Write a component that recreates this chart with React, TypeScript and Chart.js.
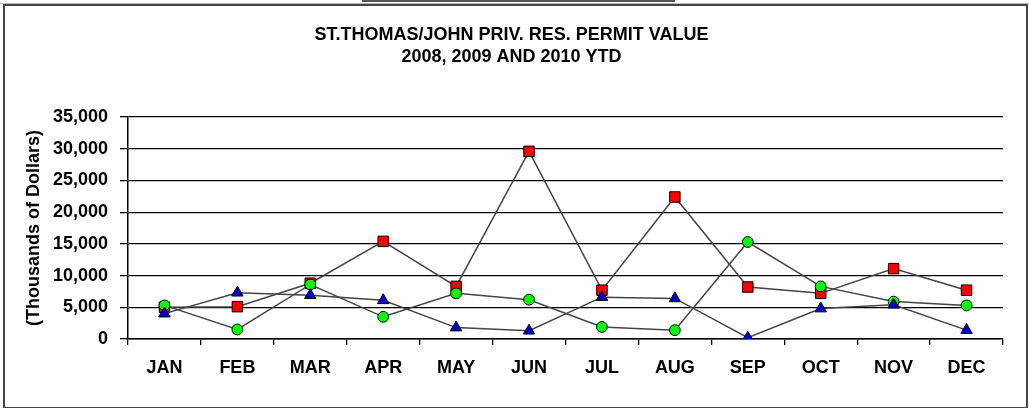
import React, { useEffect, useRef } from "react";
import { Chart, registerables } from "chart.js";

Chart.register(...registerables);

const months = ["JAN", "FEB", "MAR", "APR", "MAY", "JUN", "JUL", "AUG", "SEP", "OCT", "NOV", "DEC"];
const series2008 = [5000, 5100, 8800, 15400, 8300, 29600, 7700, 22400, 8200, 7200, 11100, 7700];
const series2009 = [5300, 1500, 8600, 3500, 7200, 6200, 1900, 1400, 15300, 8300, 5900, 5300];
const series2010 = [4000, 7300, 6900, 6100, 1800, 1300, 6600, 6400, 200, 4800, 5400, 1400];
const titleLines = ["ST.THOMAS/JOHN PRIV. RES. PERMIT VALUE", "2008, 2009 AND 2010 YTD"];
const yAxisTitle = "(Thousands of Dollars)";

const FONT = "'Liberation Sans', Arial, sans-serif";

export default function App() {
  const ref = useRef<HTMLCanvasElement | null>(null);

  useEffect(() => {
    if (!ref.current) return;
    const lineColor = "#444444";
    const chart = new Chart(ref.current, {
      type: "line",
      data: {
        labels: months,
        datasets: [
          {
            label: "2008",
            data: series2008,
            borderColor: lineColor,
            borderWidth: 1.5,
            pointStyle: "rect",
            pointRadius: 7.4,
            pointBackgroundColor: "#ff0000",
            pointBorderColor: "#000",
            pointBorderWidth: 1,
            order: 3,
          },
          {
            label: "2009",
            data: series2009,
            borderColor: lineColor,
            borderWidth: 1.5,
            pointStyle: "circle",
            pointRadius: 5.4,
            pointBackgroundColor: "#00ff00",
            pointBorderColor: "#000",
            pointBorderWidth: 1,
            order: 2,
          },
          {
            label: "2010",
            data: series2010,
            borderColor: lineColor,
            borderWidth: 1.5,
            pointStyle: "triangle",
            pointRadius: 6.6,
            pointBackgroundColor: "#0000cc",
            pointBorderColor: "#000",
            pointBorderWidth: 1,
            order: 1,
          },
        ],
      },
      options: {
        responsive: false,
        animation: false,
        layout: { padding: { left: 20, right: 26, top: 0, bottom: 0 } },
        plugins: {
          legend: { display: false },
          tooltip: { enabled: false },
          title: {
            display: true,
            text: titleLines,
            color: "#000",
            font: { family: FONT, size: 18, weight: "bold", lineHeight: 1.17 },
            padding: { top: 25, bottom: 50 },
          },
        },
        scales: {
          x: {
            type: "category",
            offset: true,
            afterFit: (s: any) => {
              s.height = 69;
            },
            grid: {
              display: true,
              offset: true,
              drawOnChartArea: false,
              drawTicks: true,
              tickLength: 6,
              color: "#000",
              lineWidth: 1.3,
            },
            border: { display: true, color: "#000", width: 1.5 },
            ticks: {
              color: "#000",
              font: { family: FONT, size: 18, weight: "bold" },
              padding: 12,
              maxRotation: 0,
              autoSkip: false,
            },
          },
          y: {
            min: 0,
            max: 35000,
            afterFit: (s: any) => {
              s.width = 108;
            },
            grid: {
              display: true,
              color: "#000",
              lineWidth: 1.3,
              drawTicks: true,
              tickLength: 8,
            },
            border: { display: true, color: "#000", width: 1.5 },
            ticks: {
              stepSize: 5000,
              color: "#000",
              padding: 12,
              font: { family: FONT, size: 18, weight: "bold" },
              callback: (v: any) => Number(v).toLocaleString("en-US"),
            },
            title: {
              display: true,
              text: yAxisTitle,
              color: "#000",
              font: { family: FONT, size: 18, weight: "bold" },
              padding: { top: 3, bottom: 0 },
            },
          },
        },
      },
    });
    return () => chart.destroy();
  }, []);

  return (
    <div style={{ position: "absolute", left: 0, top: 0, width: 1029, height: 408, background: "#fff", overflow: "hidden" }}>
      <div style={{ position: "absolute", left: 362, top: 0, width: 313, height: 2, background: "#555" }} />
      <div style={{ position: "absolute", left: 0, top: 3, width: 1029, height: 1, background: "#bbb" }} />
      <div
        style={{
          position: "absolute",
          left: 3,
          top: 4,
          width: 1021,
          height: 401,
          borderLeft: "2px solid #444",
          borderTop: "2px solid #444",
          borderRight: "2px solid #444",
          borderBottom: "2px solid #444",
        }}
      />
      <canvas ref={ref} width={1029} height={408} style={{ position: "absolute", left: 0, top: 0, width: 1029, height: 408 }} />
    </div>
  );
}
